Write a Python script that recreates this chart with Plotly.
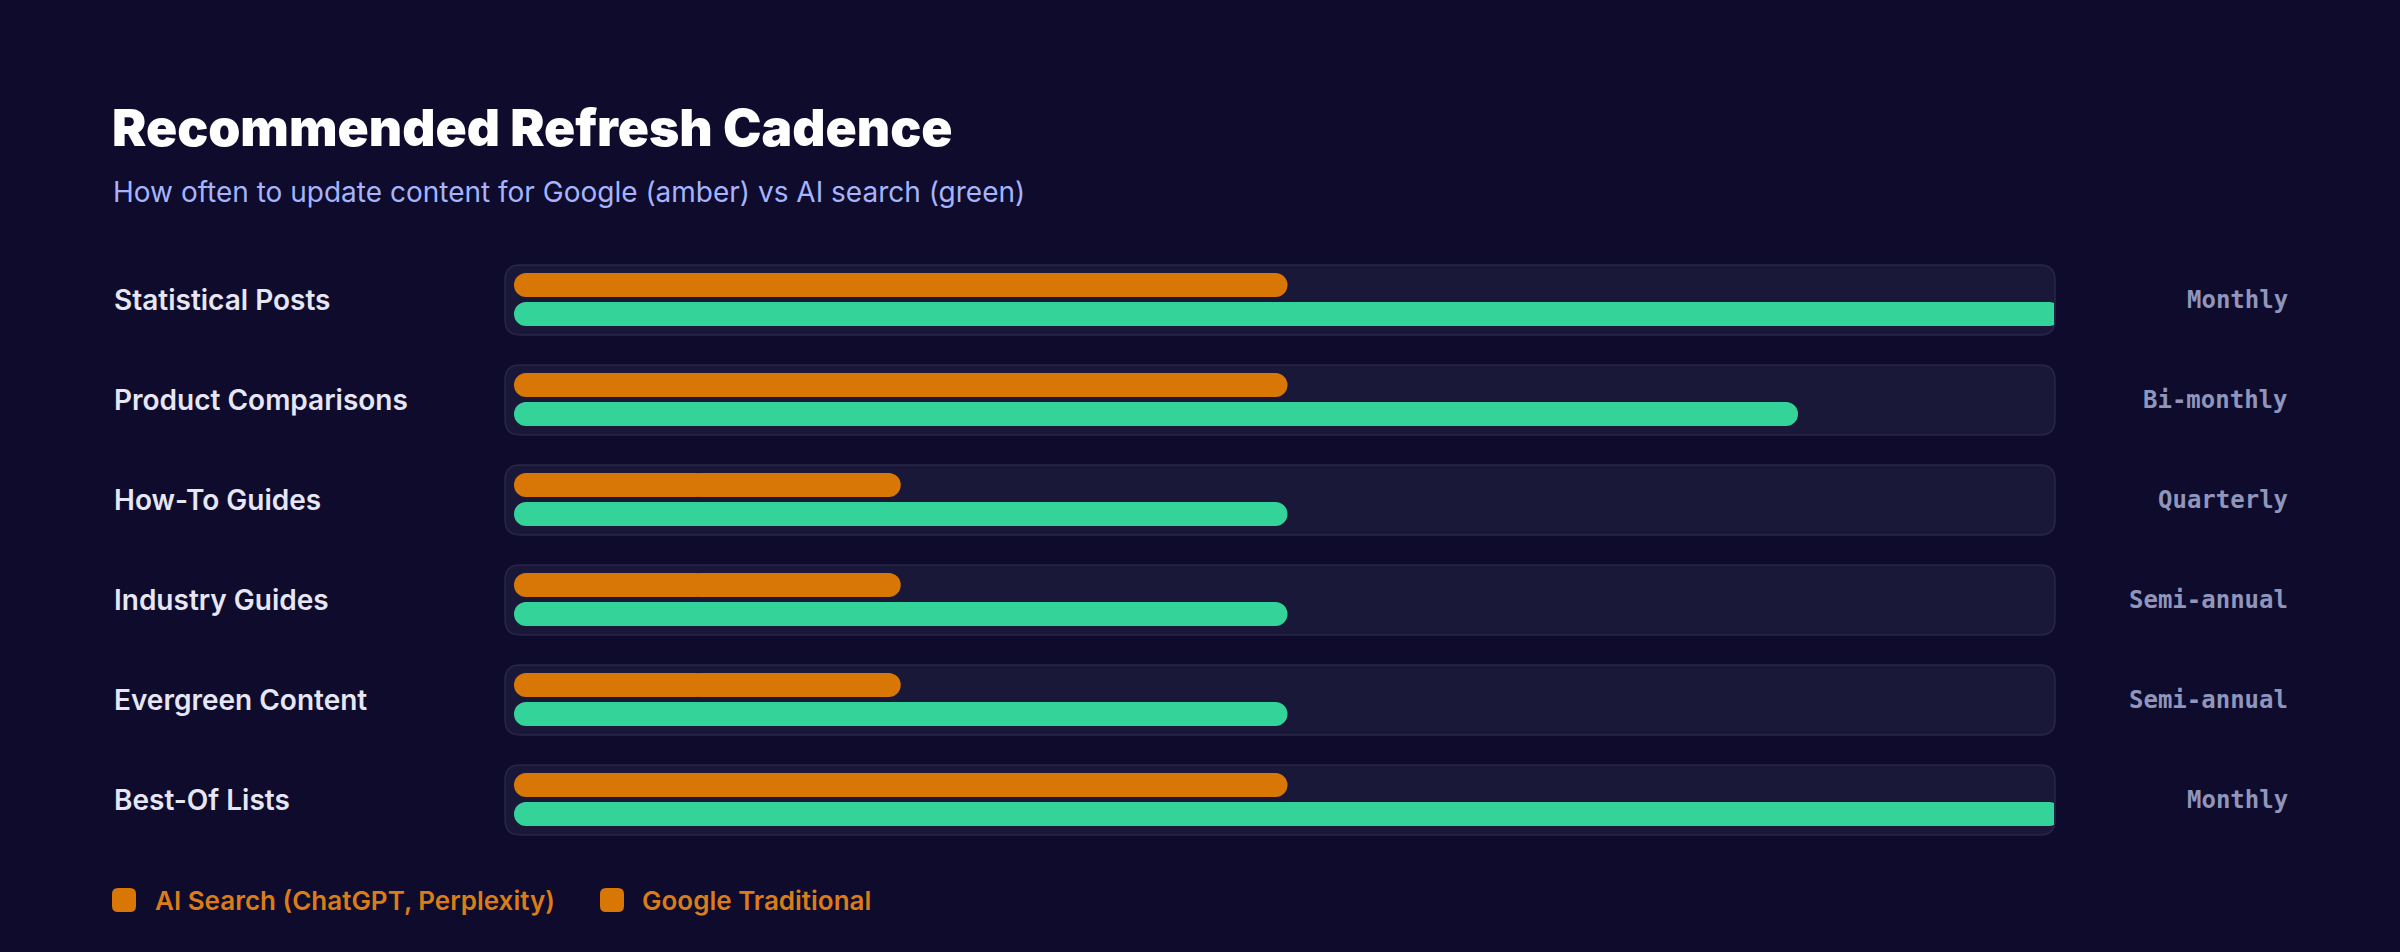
import plotly.graph_objects as go

# ---------------- data ----------------
categories = ["Statistical Posts", "Product Comparisons", "How-To Guides",
              "Industry Guides", "Evergreen Content", "Best-Of Lists"]
google_values = [50, 50, 25, 25, 25, 50]      # Google Traditional (amber)
ai_values = [100, 83, 50, 50, 50, 100]        # AI search (green)
cadence_labels = ["Monthly", "Bi-monthly", "Quarterly", "Semi-annual", "Semi-annual", "Monthly"]
legend_names = ["AI Search (ChatGPT, Perplexity)", "Google Traditional"]
title_text = "Recommended Refresh Cadence"
subtitle_text = "How often to update content for Google (amber) vs AI search (green)"

# ---------------- style ----------------
W, H = 2400, 952
BG = "#0e0b2d"
TRACK_FILL = "#1a1838"
TRACK_LINE = "#29264a"
AMBER = "#d97706"
GREEN = "#34d399"
LABEL_COLOR = "#e6e6f4"
CAD_COLOR = "#9096bb"
SUB_COLOR = "#a5b4fc"
FONT = "Inter"

X0_PX, X1_PX = 514, 2061          # pixel span of 0..100 on the value axis
PLOT_L, PLOT_R = 495, 2054        # plot area (bars are clipped at the track edge)
ROW0_PX, ROW_STEP = 300, 100      # pixel centre of first row, row pitch
BAR_PX = 24
px_per_unit = (X1_PX - X0_PX) / 100.0

n = len(categories)
rows = list(range(n))
y_google = [i - 0.15 for i in rows]
y_ai = [i + 0.14 for i in rows]

fig = go.Figure()

# each bar is drawn as two overlapping halves so both ends get a round cap
for vals, ys, col, name in [(google_values, y_google, AMBER, legend_names[1]),
                            (ai_values, y_ai, GREEN, legend_names[0])]:
    # right half: rounded at the value end
    fig.add_trace(go.Bar(
        orientation="h", y=ys, base=[v * 0.45 for v in vals], x=[v * 0.55 for v in vals],
        width=BAR_PX / ROW_STEP, name=name, showlegend=False, hoverinfo="skip",
        marker=dict(color=col, line=dict(width=0), cornerradius=BAR_PX / 2)))
    # left half: drawn backwards from the middle, rounded at zero
    fig.add_trace(go.Bar(
        orientation="h", y=ys, base=[v * 0.5 for v in vals], x=[-v * 0.5 for v in vals],
        width=BAR_PX / ROW_STEP, name=name, showlegend=False, hoverinfo="skip",
        marker=dict(color=col, line=dict(width=0), cornerradius=BAR_PX / 2)))


def rounded_rect(x0, x1, y0, y1, rx, ry):
    return (f"M {x0+rx},{y0} L {x1-rx},{y0} Q {x1},{y0} {x1},{y0+ry} "
            f"L {x1},{y1-ry} Q {x1},{y1} {x1-rx},{y1} L {x0+rx},{y1} "
            f"Q {x0},{y1} {x0},{y1-ry} L {x0},{y0+ry} Q {x0},{y0} {x0+rx},{y0} Z")


# tracks (rounded rectangles behind each row), in paper coordinates
shapes = []
for i in rows:
    cy = ROW0_PX + ROW_STEP * i
    path = rounded_rect(505 / W, 2055 / W, 1 - (cy + 35) / H, 1 - (cy - 35) / H, 15 / W, 15 / H)
    shapes.append(dict(type="path", path=path, xref="paper", yref="paper", layer="below",
                       fillcolor=TRACK_FILL, line=dict(color=TRACK_LINE, width=1.5)))

annotations = []
# row labels and cadence labels
for i, (cat, cad) in enumerate(zip(categories, cadence_labels)):
    annotations.append(dict(text=cat, xref="paper", x=112 / W, yref="y", y=i,
                            xanchor="left", yanchor="middle", showarrow=False,
                            font=dict(family=FONT, size=28, color=LABEL_COLOR, weight=600)))
    annotations.append(dict(text=cad, xref="paper", x=2290 / W, yref="y", y=i,
                            xanchor="right", yanchor="middle", showarrow=False,
                            font=dict(family="DejaVu Sans Mono", size=24, color=CAD_COLOR, weight="bold")))

# title / subtitle
annotations.append(dict(text=title_text, xref="paper", yref="paper", x=110 / W, y=1 - 127 / H,
                        xanchor="left", yanchor="middle", showarrow=False,
                        font=dict(family=FONT, size=51.5, color="#ffffff", weight=900)))
annotations.append(dict(text=subtitle_text, xref="paper", yref="paper", x=111 / W, y=1 - 192 / H,
                        xanchor="left", yanchor="middle", showarrow=False,
                        font=dict(family=FONT, size=28, color=SUB_COLOR, weight=400)))

# custom legend (both swatches amber, as in the original)
legend_items = [(112, 153, legend_names[0]), (600, 640, legend_names[1])]
for sx, tx, name in legend_items:
    sw = rounded_rect(sx / W, (sx + 24) / W, 1 - 912 / H, 1 - 888 / H, 6 / W, 6 / H)
    shapes.append(dict(type="path", path=sw, xref="paper", yref="paper",
                       fillcolor=AMBER, line=dict(width=0)))
    annotations.append(dict(text=name, xref="paper", yref="paper", x=tx / W, y=1 - 900 / H,
                            xanchor="left", yanchor="middle", showarrow=False,
                            font=dict(family=FONT, size=26, color="#da7d18", weight=600)))

fig.update_layout(
    width=W, height=H, margin=dict(l=0, r=0, t=0, b=0),
    paper_bgcolor=BG, plot_bgcolor="rgba(0,0,0,0)",
    barmode="overlay", showlegend=False,
    xaxis=dict(domain=[PLOT_L / W, PLOT_R / W],
               range=[(PLOT_L - X0_PX) / px_per_unit, (PLOT_R - X0_PX) / px_per_unit],
               visible=False, fixedrange=True),
    yaxis=dict(domain=[0, 1], range=[(H - ROW0_PX) / ROW_STEP, -ROW0_PX / ROW_STEP],
               visible=False, fixedrange=True),
    shapes=shapes, annotations=annotations,
)

fig.write_html("out.html")
